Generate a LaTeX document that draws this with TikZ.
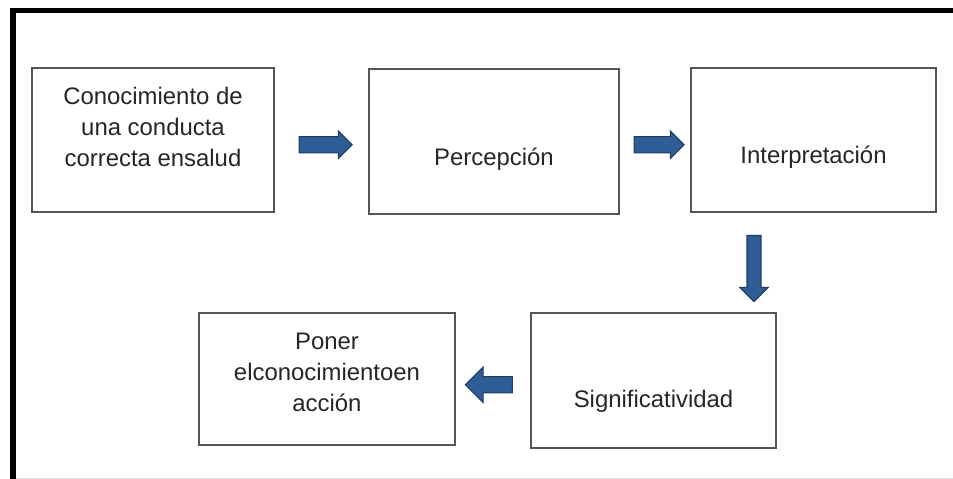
\documentclass[tikz,border=0pt]{standalone}
\usepackage{fontspec}
\setmainfont{Liberation Sans}
\usetikzlibrary{shapes.arrows, calc}

\definecolor{framegray}{HTML}{555555}
\definecolor{arrowline}{HTML}{1F3B63}
\definecolor{arrowmid}{HTML}{5B8CC8}
\definecolor{arrowedge}{HTML}{2F5D96}

\begin{document}
\begin{tikzpicture}[
  x=0.025cm, y=-0.025cm,
  box/.style={draw=framegray, line width=1pt, fill=white, inner sep=0pt},
  lbl/.style={align=center, text=black!85, inner sep=0pt,
              font=\fontsize{17}{22}\selectfont},
  blockarrow/.style={single arrow, draw=arrowline, line width=0.8pt,
              top color=arrowedge, middle color=arrowmid, bottom color=arrowedge,
              inner xsep=0pt, inner ysep=0.19cm, single arrow head extend=0.14cm}
]
  \useasboundingbox (0,0) rectangle (953,479);

  % frame
  \draw[gray!25, line width=0.6pt] (13,478) -- (953,478);
  \draw[line width=0.125cm] (13,479) -- (13,10.5) -- (953,10.5);

  % boxes
  \node[box, minimum width=6.05cm, minimum height=3.6cm] (cono) at (153,140) {};
  \node[box, minimum width=6.25cm, minimum height=3.625cm] (perc) at (494,141.5) {};
  \node[box, minimum width=6.125cm, minimum height=3.6cm] (interp) at (813.5,140) {};
  \node[box, minimum width=6.125cm, minimum height=3.375cm] (signif) at (653.5,380.5) {};
  \node[box, minimum width=6.4cm, minimum height=3.3cm] (poner) at (327,379) {};

  % texts
  \node[lbl] (conotxt) at (153,127) {Conocimiento de\\una conducta\\correcta ensalud};
  \node[lbl, anchor=base] (perctxt) at (494,165) {Percepción};
  \node[lbl, anchor=base] (interptxt) at (813.5,163) {Interpretación};
  \node[lbl, anchor=base] (signiftxt) at (653.5,407) {Significatividad};
  \node[lbl] (ponertxt) at (327,372.5) {Poner\\elconocimientoen\\acción};

  % arrows
  \node[blockarrow, minimum height=1.325cm] (flecha1)
        at ($(cono.east)!0.5!(perc.west)+(0,4)$) {};
  \node[blockarrow, minimum height=1.25cm] (flecha2)
        at ($(perc.east)!0.5!(interp.west)+(0,4)$) {};
  \node[blockarrow, minimum height=1.65cm, rotate=-90, inner ysep=0.16cm,
        single arrow head extend=0.18cm] (flecha3) at (754,265) {};
  \node[blockarrow, minimum height=1.175cm, rotate=180,
        single arrow head extend=0.24cm] (flecha4)
        at ($(poner.east)!0.5!(signif.west)+(0,5)$) {};
\end{tikzpicture}
\end{document}
